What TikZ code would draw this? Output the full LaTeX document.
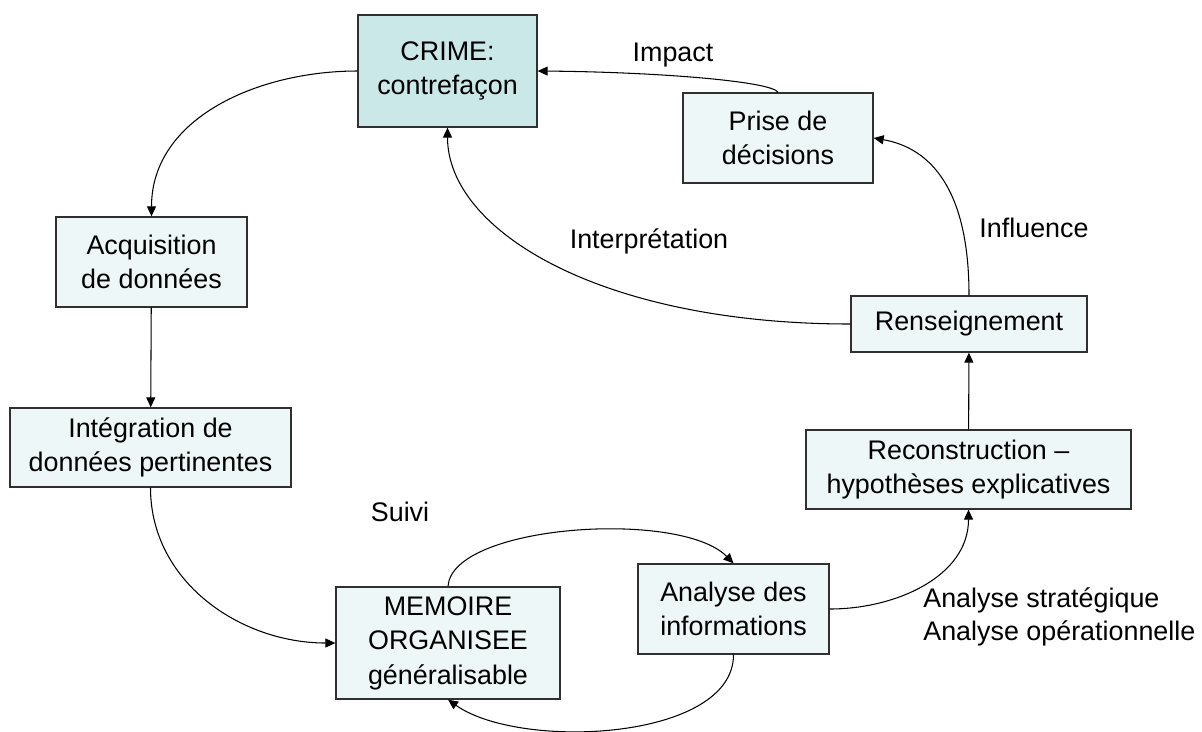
\documentclass[tikz,border=0pt]{standalone}
\usepackage{fontspec}
\setmainfont{Liberation Sans}
\usetikzlibrary{arrows.meta}
\definecolor{crimefond}{HTML}{CBE8E8}
\definecolor{etapefond}{HTML}{EEF7F7}
\definecolor{bord}{HTML}{303030}
\tikzset{
  etape/.style={draw=bord, line width=0.75pt, fill=etapefond, align=center, inner sep=0pt,
                font=\fontsize{15.3}{19.6}\selectfont},
  crimebox/.style={etape, fill=crimefond},
  etiq/.style={inner sep=0pt, font=\fontsize{15.3}{19}\selectfont},
  fleche/.style={-{Triangle[length=2mm,width=1.8mm]}, line width=0.6pt}
}
\begin{document}
\begin{tikzpicture}[x=0.02cm, y=-0.02cm]
\useasboundingbox (0,0) rectangle (1202,731);
        %cases
        \node[crimebox, minimum width=3.58cm, minimum height=2.24cm] (crime) at (447.5,71) {CRIME:\\contrefaçon};
        \node[etape, minimum width=3.8cm, minimum height=1.8cm] (decision) at (778,138) {Prise de\\décisions};
        \node[etape, minimum width=3.82cm, minimum height=1.8cm] (acquis) at (151.5,262) {Acquisition\\de données};
        \node[etape, minimum width=5.62cm, minimum height=1.58cm] (integr) at (150.5,447.5) {Intégration de\\données pertinentes};
        \node[etape, minimum width=4.48cm, minimum height=2.24cm] (memoire) at (448,643) {MEMOIRE\\ORGANISEE\\généralisable};
        \node[etape, minimum width=3.82cm, minimum height=1.8cm] (analyse) at (733.5,609) {Analyse des\\informations};
        \node[etape, minimum width=4.72cm, minimum height=1.12cm] (renseign) at (969,324) {Renseignement};
        \node[etape, minimum width=6.5cm, minimum height=1.58cm] (reconstr) at (968.5,469.5) {Reconstruction –\\hypothèses explicatives};

        %fleches
        \draw[fleche] (crime.west) to[out=180,in=90] (acquis.north);
        \draw[fleche] (acquis) -- (integr);
        \draw[fleche] (integr.south) to[out=-90,in=180] (memoire.west);
        \draw[fleche] (memoire.north) .. controls +(4,-62) and +(-53,-54) .. (analyse.north);
        \draw[fleche] (analyse.south) .. controls +(0,86) and +(72,51) .. (memoire.south);
        \draw[fleche] (analyse.east) to[out=0,in=-90] (reconstr.south);
        \draw[fleche] (reconstr) -- (renseign);
        \draw[fleche] (renseign.north) .. controls +(0,-106) and +(57,10) .. (decision.east);
        \draw[fleche] (renseign.west) .. controls +(-250,0) and +(0,103) .. (crime.south);
        \draw[fleche] (decision.north) .. controls +(-6,-11) and +(120,1) .. (crime.east);

        %labels
        \node[etiq, anchor=base] (impact) at (673,61) {Impact};
        \node[etiq, anchor=base] (interp) at (649,248) {Interprétation};
        \node[etiq, anchor=base] (influ) at (1034,237) {Influence};
        \node[etiq, anchor=base] (suivi) at (400,521) {Suivi};
        \node[etiq, anchor=north west, align=left] (typean) at (923,587) {Analyse stratégique\\Analyse opérationnelle};
\end{tikzpicture}
\end{document}
